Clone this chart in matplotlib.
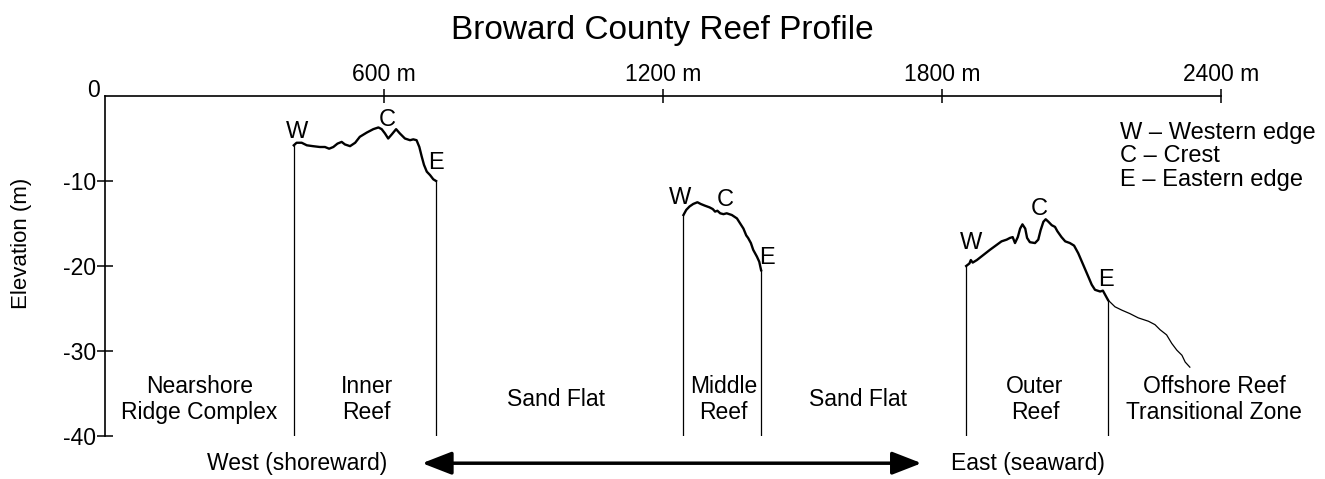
import matplotlib
matplotlib.use("Agg")
import matplotlib.pyplot as plt

plt.rcParams['font.family'] = ['Liberation Sans', 'DejaVu Sans']

# profil terumbu (jarak m, elevasi m)
inner_x = [406, 412, 423, 434, 447, 462, 473, 482, 491, 500, 509, 516, 527, 538, 548,
           563, 577, 588, 595, 602, 609, 617, 626, 634, 645, 656, 663, 670, 676, 681,
           686, 692, 699, 706, 712]
inner_y = [-5.8, -5.5, -5.5, -5.8, -5.9, -6.0, -6.0, -6.2, -6.0, -5.6, -5.4, -5.7, -5.9,
           -5.5, -4.8, -4.3, -3.9, -3.7, -3.9, -4.4, -5.0, -4.5, -3.9, -4.4, -5.0, -5.2,
           -5.1, -5.2, -6.0, -7.1, -8.1, -8.9, -9.3, -9.8, -10.0]

middle_x = [1244, 1250, 1257, 1265, 1274, 1281, 1290, 1300, 1307, 1312, 1317, 1323, 1330,
            1337, 1348, 1359, 1366, 1373, 1379, 1383, 1389, 1394, 1402, 1407, 1411]
middle_y = [-14.0, -13.4, -13.0, -12.7, -12.5, -12.7, -12.9, -13.1, -13.3, -13.6, -13.5,
            -13.8, -13.9, -13.8, -14.0, -14.4, -15.0, -15.6, -16.4, -16.7, -17.3, -18.1,
            -18.9, -19.5, -20.5]

outer_x = [1852, 1859, 1862, 1866, 1875, 1889, 1903, 1918, 1928, 1939, 1946, 1952, 1957,
           1963, 1968, 1973, 1979, 1983, 1989, 2000, 2007, 2012, 2018, 2023, 2029, 2036,
           2043, 2048, 2057, 2065, 2075, 2084, 2093, 2104, 2115, 2122, 2129, 2140, 2146,
           2151, 2157]
outer_y = [-20.0, -19.7, -19.3, -19.6, -19.3, -18.7, -18.1, -17.5, -17.1, -16.9, -16.7,
           -16.6, -17.3, -16.6, -15.6, -15.1, -15.6, -16.7, -17.2, -17.3, -16.9, -15.8,
           -14.8, -14.5, -14.8, -15.2, -15.4, -15.9, -16.6, -17.1, -17.3, -17.6, -18.5,
           -19.9, -21.3, -22.2, -22.8, -23.0, -22.9, -23.4, -24.0]

offshore_x = [2157, 2172, 2187, 2204, 2222, 2244, 2258, 2269, 2283, 2294, 2305, 2316,
              2323, 2333]
offshore_y = [-24.0, -24.8, -25.2, -25.6, -26.1, -26.5, -26.9, -27.5, -28.1, -29.1, -29.9,
              -30.5, -31.3, -31.9]

xticks = [600, 1200, 1800, 2400]
xtick_labels = ["600 m", "1200 m", "1800 m", "2400 m"]
yticks = [-40, -30, -20, -10]

zone_names = ["Nearshore\nRidge Complex", "Inner\nReef", "Sand Flat", "Middle\nReef",
              "Sand Flat", "Outer\nReef", "Offshore Reef\nTransitional Zone"]
zone_x = [203, 563, 970, 1330, 1619, 2000, 2385]

# label W / C / E untuk tiap terumbu
edge_text = ["W", "C", "E", "W", "C", "E", "W", "C", "E"]
edge_x = [414, 606, 712, 1237, 1333, 1424, 1862, 2009, 2153]
edge_y = [-4.2, -2.8, -7.9, -12.0, -12.2, -19.1, -17.3, -13.3, -21.7]

legend_lines = ["W \u2013 Western edge", "C \u2013 Crest", "E \u2013 Eastern edge"]

fig = plt.figure(figsize=(13.25, 4.79), dpi=100)
ax = fig.add_axes([105/1325, 1-436/479, 1116/1325, 340/479])
ax.set_xlim(0, 2400)
ax.set_ylim(-40, 0)

ax.spines['right'].set_visible(False)
ax.spines['bottom'].set_visible(False)
ax.spines['top'].set_linewidth(1.2)
ax.spines['left'].set_linewidth(1.2)

ax.xaxis.tick_top()
ax.set_xticks(xticks)
ax.set_xticklabels(xtick_labels)
ax.set_yticks(yticks)
ax.set_yticklabels([str(v) for v in yticks])
ax.tick_params(axis='x', direction='inout', length=10, width=1.1, pad=2, labelsize=16.5)
ax.tick_params(axis='y', direction='inout', length=11, width=1.1, pad=1, labelsize=16.5)
ax.text(-10, 0.7, "0", ha='right', va='center', fontsize=16.5, clip_on=False)

# garis profil
ax.plot(inner_x, inner_y, color='black', lw=1.7)
ax.plot(middle_x, middle_y, color='black', lw=1.7)
ax.plot(outer_x, outer_y, color='black', lw=1.7)
ax.plot(offshore_x, offshore_y, color='black', lw=0.9)

# garis batas vertikal
for px, py in [(inner_x[0], inner_y[0]), (inner_x[-1], inner_y[-1]),
               (middle_x[0], middle_y[0]), (middle_x[-1], middle_y[-1]),
               (outer_x[0], outer_y[0]), (outer_x[-1], outer_y[-1])]:
    ax.plot([px, px], [-40, py], color='black', lw=0.9)

for t, x, y in zip(edge_text, edge_x, edge_y):
    ax.text(x, y, t, ha='center', va='center', fontsize=17)

for name, x in zip(zone_names, zone_x):
    ax.text(x, -35.7, name, ha='center', va='center', fontsize=16.5,
            linespacing=1.2, clip_on=False)

for i, line in enumerate(legend_lines):
    ax.text(2183, -4.35 - 2.75 * i, line, ha='left', va='center', fontsize=17,
            clip_on=False)

ax.text(413, -43.2, "West (shoreward)", ha='center', va='center', fontsize=16.5,
        clip_on=False)
ax.text(1985, -43.2, "East (seaward)", ha='center', va='center', fontsize=16.5,
        clip_on=False)
ax.annotate('', xy=(682, -43.2), xytext=(1756, -43.2),
            arrowprops=dict(arrowstyle='<|-|>,head_length=0.9,head_width=0.35',
                            lw=2.5, color='black', shrinkA=0, shrinkB=0,
                            mutation_scale=20),
            annotation_clip=False)

fig.text(22/1325, 1-243/479, "Elevation (m)", rotation=90, ha='center', va='center',
         fontsize=16)
fig.text(0.5, 1-30/479, "Broward County Reef Profile", ha='center', va='center',
         fontsize=24)

fig.savefig("out.png", dpi=100)
